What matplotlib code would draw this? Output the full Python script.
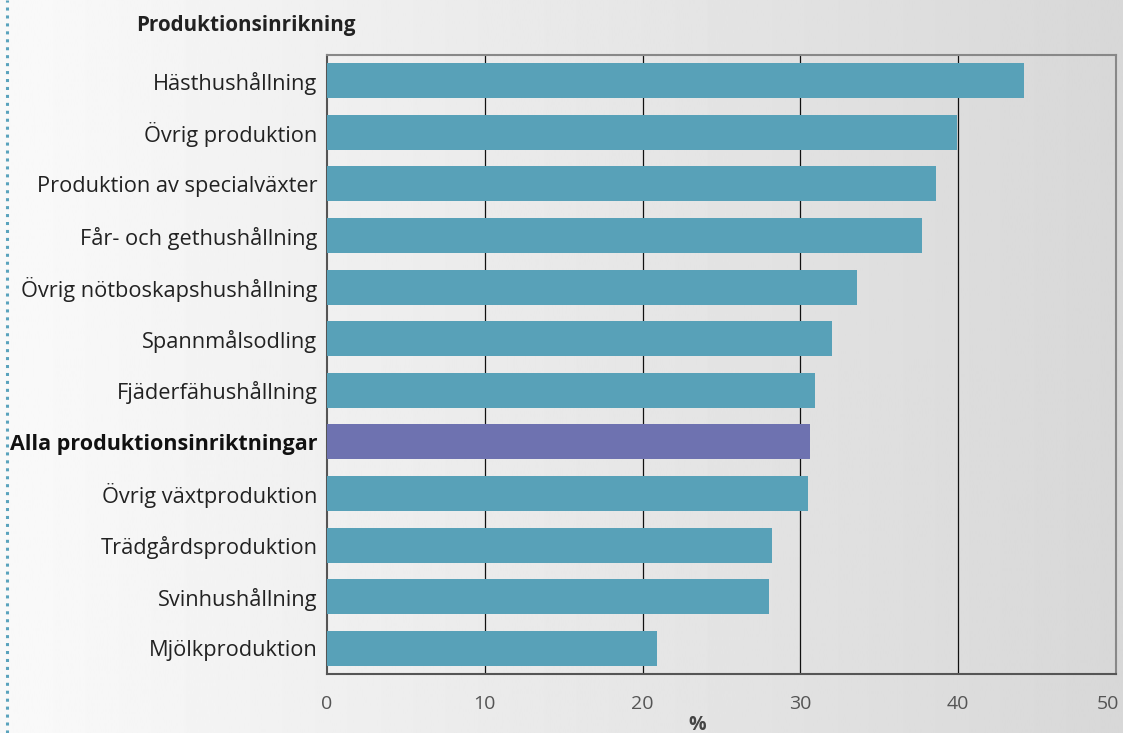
import numpy as np
import matplotlib
matplotlib.use("Agg")
import matplotlib.pyplot as plt
from matplotlib.transforms import offset_copy

categories = [
    "Hästhushållning",
    "Övrig produktion",
    "Produktion av specialväxter",
    "Får- och gethushållning",
    "Övrig nötboskapshushållning",
    "Spannmålsodling",
    "Fjäderfähushållning",
    "Alla produktionsinriktningar",
    "Övrig växtproduktion",
    "Trädgårdsproduktion",
    "Svinhushållning",
    "Mjölkproduktion",
]
values = [44.2, 39.9, 38.6, 37.7, 33.6, 32.0, 30.9, 30.6, 30.5, 28.2, 28.0, 20.9]
highlight = "Alla produktionsinriktningar"
xticks = [0, 10, 20, 30, 40, 50]

plt.rcParams['font.family'] = ['Open Sans', 'DejaVu Sans']

W, H = 1123, 733
fig = plt.figure(figsize=(W / 100, H / 100), dpi=100)

# background gradient
bg = fig.add_axes([0, 0, 1, 1], zorder=-10)
xs = np.linspace(0, 1, 600)
vals = np.where(xs < 0.03, 0.975, 0.975 - (xs - 0.03) / 0.97 * 0.13)
bg.imshow(vals[None, :], aspect='auto', cmap='gray', vmin=0, vmax=1,
          extent=[0, 1, 0, 1])
bg.set_axis_off()
bg.plot([7 / W, 7 / W], [0, 1], linestyle=(0, (1, 1.6)), color='#5aa3bd',
        linewidth=2.2, transform=bg.transAxes)
bg.set_xlim(0, 1)
bg.set_ylim(0, 1)

left, right, top, bottom = 327, 1116, 55, 674
ax = fig.add_axes([left / W, 1 - bottom / H, (right - left) / W, (bottom - top) / H])
ax.set_facecolor('none')

y = np.arange(len(categories))
colors = ['#6e72b0' if c == highlight else '#58a1b8' for c in categories]
ax.barh(y, values, height=0.68, color=colors, zorder=3)
ax.set_ylim(len(categories) - 0.5, -0.5)
ax.set_xlim(0, 50)
ax.set_xticks(xticks)
ax.set_xticklabels([str(t) for t in xticks], color='#555555', fontsize=14)
ax.set_yticks(y)
ax.set_yticklabels(categories, fontsize=15.7, color='#222222')
for lab in ax.get_yticklabels():
    if lab.get_text() == highlight:
        lab.set_fontweight('bold')
        lab.set_fontsize(15.5)
        lab.set_color('#111111')
ax.tick_params(axis='y', length=0, pad=7)
ax.tick_params(axis='x', length=0, pad=15)
xl = ax.get_xticklabels()
xl[-1].set_transform(offset_copy(xl[-1].get_transform(), fig=fig, x=-8, y=0, units='dots'))
for t in [10, 20, 30, 40]:
    ax.axvline(t, color='#111111', linewidth=0.9, zorder=1)
for s in ['left', 'bottom']:
    ax.spines[s].set_color('#555555')
    ax.spines[s].set_linewidth(1.5)
for s in ['top', 'right']:
    ax.spines[s].set_color('#888888')
    ax.spines[s].set_linewidth(1.5)

fig.text(697 / W, 1 - 725 / H, '%', fontsize=14, fontweight='bold',
         color='#444444', ha='center', va='center')
fig.text(136 / W, 1 - 25 / H, 'Produktionsinrikning', fontsize=14.9, fontweight='bold',
         color='#222222', ha='left', va='center')

fig.savefig('out.png', dpi=100)
